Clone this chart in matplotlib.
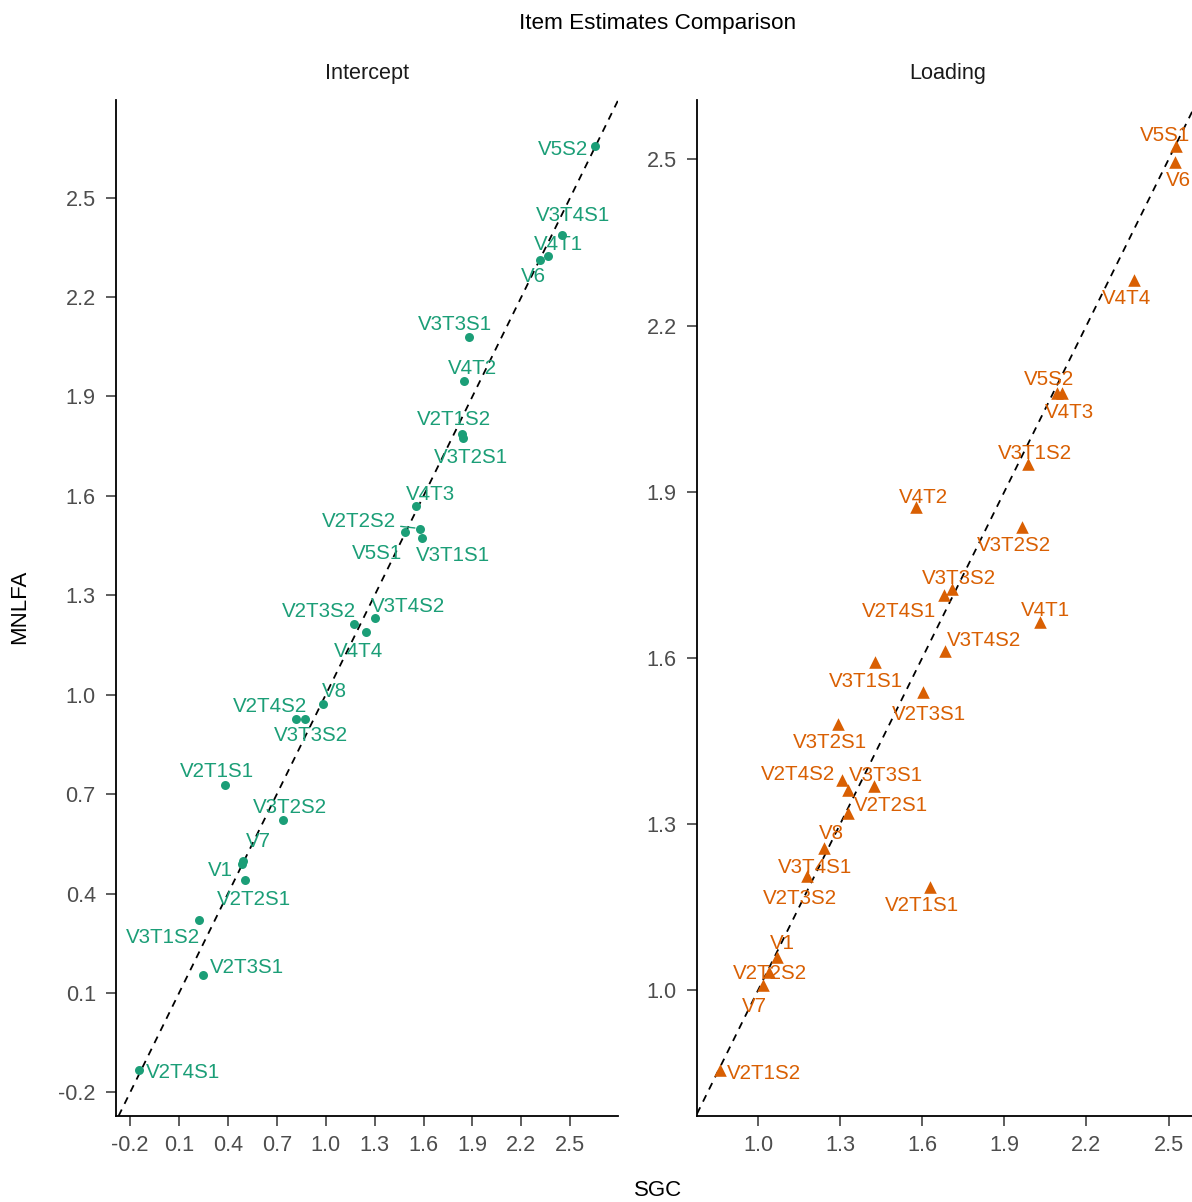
import numpy as np
import matplotlib
matplotlib.use('Agg')
import matplotlib.pyplot as plt

plt.rcParams['font.family'] = ['Liberation Sans', 'DejaVu Sans']

# item names (same for both panels)
items = ['V1', 'V2T1S1', 'V2T1S2', 'V2T2S1', 'V2T2S2', 'V2T3S1', 'V2T3S2',
         'V2T4S1', 'V2T4S2', 'V3T1S1', 'V3T1S2', 'V3T2S1', 'V3T2S2', 'V3T3S1',
         'V3T3S2', 'V3T4S1', 'V3T4S2', 'V4T1', 'V4T2', 'V4T3', 'V4T4',
         'V5S1', 'V5S2', 'V6', 'V7', 'V8']

intercept_sgc = [0.487, 0.380, 1.837, 0.505, 1.581, 0.244, 1.176,
                 -0.147, 0.818, 1.593, 0.225, 1.845, 0.739, 1.880,
                 0.871, 2.450, 1.305, 2.366, 1.849, 1.555, 1.248,
                 1.489, 2.653, 2.317, 0.495, 0.980]
intercept_mnlfa = [0.488, 0.727, 1.787, 0.440, 1.501, 0.153, 1.214,
                   -0.132, 0.928, 1.472, 0.319, 1.774, 0.623, 2.080,
                   0.928, 2.386, 1.232, 2.325, 1.946, 1.570, 1.189,
                   1.490, 2.655, 2.312, 0.498, 0.973]

loading_sgc = [1.068, 1.628, 0.860, 1.330, 1.040, 1.602, 1.180,
               1.680, 1.308, 1.427, 1.985, 1.292, 1.965, 1.423,
               1.708, 1.242, 1.683, 2.030, 1.577, 2.112, 2.374,
               2.528, 2.091, 2.524, 1.018, 1.329]
loading_mnlfa = [1.059, 1.187, 0.856, 1.362, 1.032, 1.538, 1.206,
                 1.713, 1.379, 1.593, 1.950, 1.481, 1.837, 1.369,
                 1.725, 1.257, 1.613, 1.664, 1.872, 2.078, 2.283,
                 2.524, 2.079, 2.495, 1.010, 1.319]

intercept_ticks = [-0.2, 0.1, 0.4, 0.7, 1.0, 1.3, 1.6, 1.9, 2.2, 2.5]
loading_ticks = [1.0, 1.3, 1.6, 1.9, 2.2, 2.5]

# label offsets in pixels (dx right, dy down), like ggrepel placed them
off_intercept = {
    'V5S2': (-32, 1), 'V3T4S1': (11, -22), 'V4T1': (10, -13), 'V6': (-7, 15),
    'V3T3S1': (-14, -14), 'V4T2': (8, -15), 'V2T1S2': (-8, -16), 'V3T2S1': (7, 17),
    'V4T3': (14, -13), 'V2T2S2': (-61, -9), 'V5S1': (-28, 19), 'V3T1S1': (31, 15),
    'V2T3S2': (-35, -14), 'V3T4S2': (33, -13), 'V4T4': (-8, 17), 'V8': (12, -14),
    'V2T4S2': (-26, -14), 'V3T3S2': (6, 15), 'V2T1S1': (-8, -16), 'V3T2S2': (7, -14),
    'V7': (15, -22), 'V1': (-22, 4), 'V2T2S1': (9, 17), 'V3T1S2': (-36, 15),
    'V2T3S1': (44, -10), 'V2T4S1': (44, 1),
}
off_loading = {
    'V5S1': (-11, -13), 'V6': (3, 16), 'V4T4': (-8, 17), 'V5S2': (-8, -15),
    'V4T3': (7, 17), 'V3T1S2': (7, -13), 'V4T2': (7, -12), 'V3T2S2': (-8, 17),
    'V3T3S2': (7, -12), 'V2T4S1': (-45, 14), 'V4T1': (6, -14), 'V3T4S2': (39, -12),
    'V3T1S1': (-9, 18), 'V2T3S1': (6, 20), 'V3T2S1': (-8, 17), 'V2T4S2': (-44, -8),
    'V3T3S1': (12, -12), 'V2T2S1': (43, 14), 'V8': (-17, 18), 'V3T4S1': (-9, 18),
    'V2T3S2': (-7, 20), 'V2T1S1': (-8, 17), 'V1': (6, -16), 'V2T2S2': (1, -1),
    'V7': (-9, 20), 'V2T1S2': (44, 2),
}

verde = '#1B9E77'
arancio = '#D95F02'

W, H = 1192, 1202
fig = plt.figure(figsize=(W / 100, H / 100), dpi=100)
ax1 = fig.add_axes([116 / W, (H - 1116) / H, 502 / W, 1016 / H])
ax2 = fig.add_axes([697 / W, (H - 1116) / H, 502 / W, 1016 / H])


def limiti(v):
    # come ggplot: range dei dati + 5% per lato
    lo, hi = min(v), max(v)
    d = (hi - lo) * 0.05
    return lo - d, hi + d


def pannello(ax, x, y, ticks, offsets, colore, marker, size, titolo):
    ax.axline((1, 1), slope=1, color='black', lw=1.3, linestyle=(0, (4, 3.5)), zorder=1)
    ax.scatter(x, y, color=colore, marker=marker, s=size, linewidths=0, zorder=3)
    ax.set_xlim(limiti(x))
    ax.set_ylim(limiti(y))
    for nome, xi, yi in zip(items, x, y):
        dx, dy = offsets[nome]
        props = None
        if abs(dx) > 55:
            props = dict(arrowstyle='-', color=colore, lw=1.0, shrinkA=1, shrinkB=4)
        ax.annotate(nome, (xi, yi), xytext=(dx, -dy), textcoords='offset pixels',
                    ha='center', va='center_baseline', fontsize=14.8, color=colore,
                    arrowprops=props, zorder=4)
    ax.set_xticks(ticks)
    ax.set_yticks(ticks)
    ax.set_xticklabels([f'{t:.1f}' for t in ticks])
    ax.set_yticklabels([f'{t:.1f}' for t in ticks])
    for s in ['top', 'right']:
        ax.spines[s].set_visible(False)
    for s in ['left', 'bottom']:
        ax.spines[s].set_linewidth(1.3)
    ax.tick_params(direction='out', length=7.5, width=1.1, color='#333333',
                   labelsize=15.6, labelcolor='#4D4D4D')
    ax.tick_params(axis='y', pad=7)
    ax.tick_params(axis='x', pad=6)
    ax.text(0.5, 1 + 27 / 1016, titolo, transform=ax.transAxes, ha='center',
            va='center', fontsize=15.6, color='#1A1A1A')


pannello(ax1, intercept_sgc, intercept_mnlfa, intercept_ticks, off_intercept,
         verde, 'o', 42, 'Intercept')
pannello(ax2, loading_sgc, loading_mnlfa, loading_ticks, off_loading,
         arancio, '^', 82, 'Loading')

fig.text(658 / W, 1 - 23 / H, 'Item Estimates Comparison', ha='center', va='center',
         fontsize=16.2, color='black')
fig.text(658 / W, 1 - 1190 / H, 'SGC', ha='center', va='center', fontsize=16)
fig.text(20 / W, 1 - 607 / H, 'MNLFA', ha='center', va='center', rotation=90,
         fontsize=16)

plt.savefig('out.png', dpi=100)
